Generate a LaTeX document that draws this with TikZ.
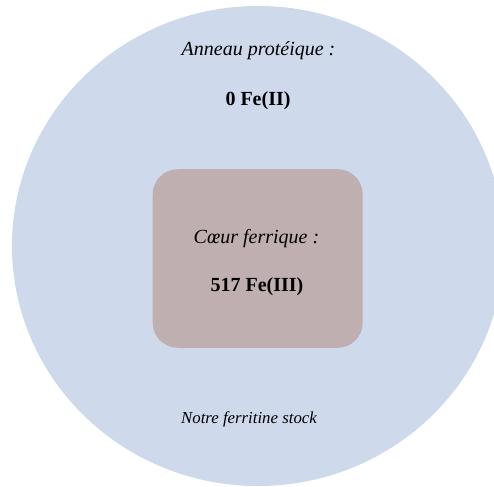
\documentclass[tikz,border=0pt]{standalone}
\usepackage{fontspec}
\setmainfont{Liberation Serif}
\usetikzlibrary{shapes.geometric}
\definecolor{ringcol}{RGB}{206,217,236}
\definecolor{corecol}{RGB}{192,175,176}
\begin{document}
\begin{tikzpicture}[x=1pt,y=-1pt,
  lbl/.style={anchor=base, inner sep=0pt, font=\fontsize{20}{24}\selectfont},
  small/.style={anchor=base, inner sep=0pt, font=\fontsize{16.8}{20}\selectfont\itshape},
  ringshape/.style={ellipse, fill=ringcol, draw=none, inner sep=0pt, minimum width=492pt, minimum height=480pt},
  coreshape/.style={rectangle, rounded corners=25pt, fill=corecol, draw=none, minimum width=210pt, minimum height=178.5pt}]
\useasboundingbox (0,0) rectangle (494,486);
\begin{scope}
\clip (0,0) rectangle (494,486);
\node[ringshape] (ring) at (258,246) {};
\end{scope}
\node[coreshape] (core) at (257.7,258.5) {};
\node[lbl] (t1) at (258.5,56) {\itshape Anneau protéique :};
\node[lbl] (t2) at (258,106) {\bfseries 0 Fe(II)};
\node[lbl] (t3) at (256.5,243) {\itshape Cœur ferrique :};
\node[lbl] (t4) at (257,291) {\bfseries 517 Fe(III)};
\node[small] (t5) at (249,423) {Notre ferritine stock};
\end{tikzpicture}
\end{document}
